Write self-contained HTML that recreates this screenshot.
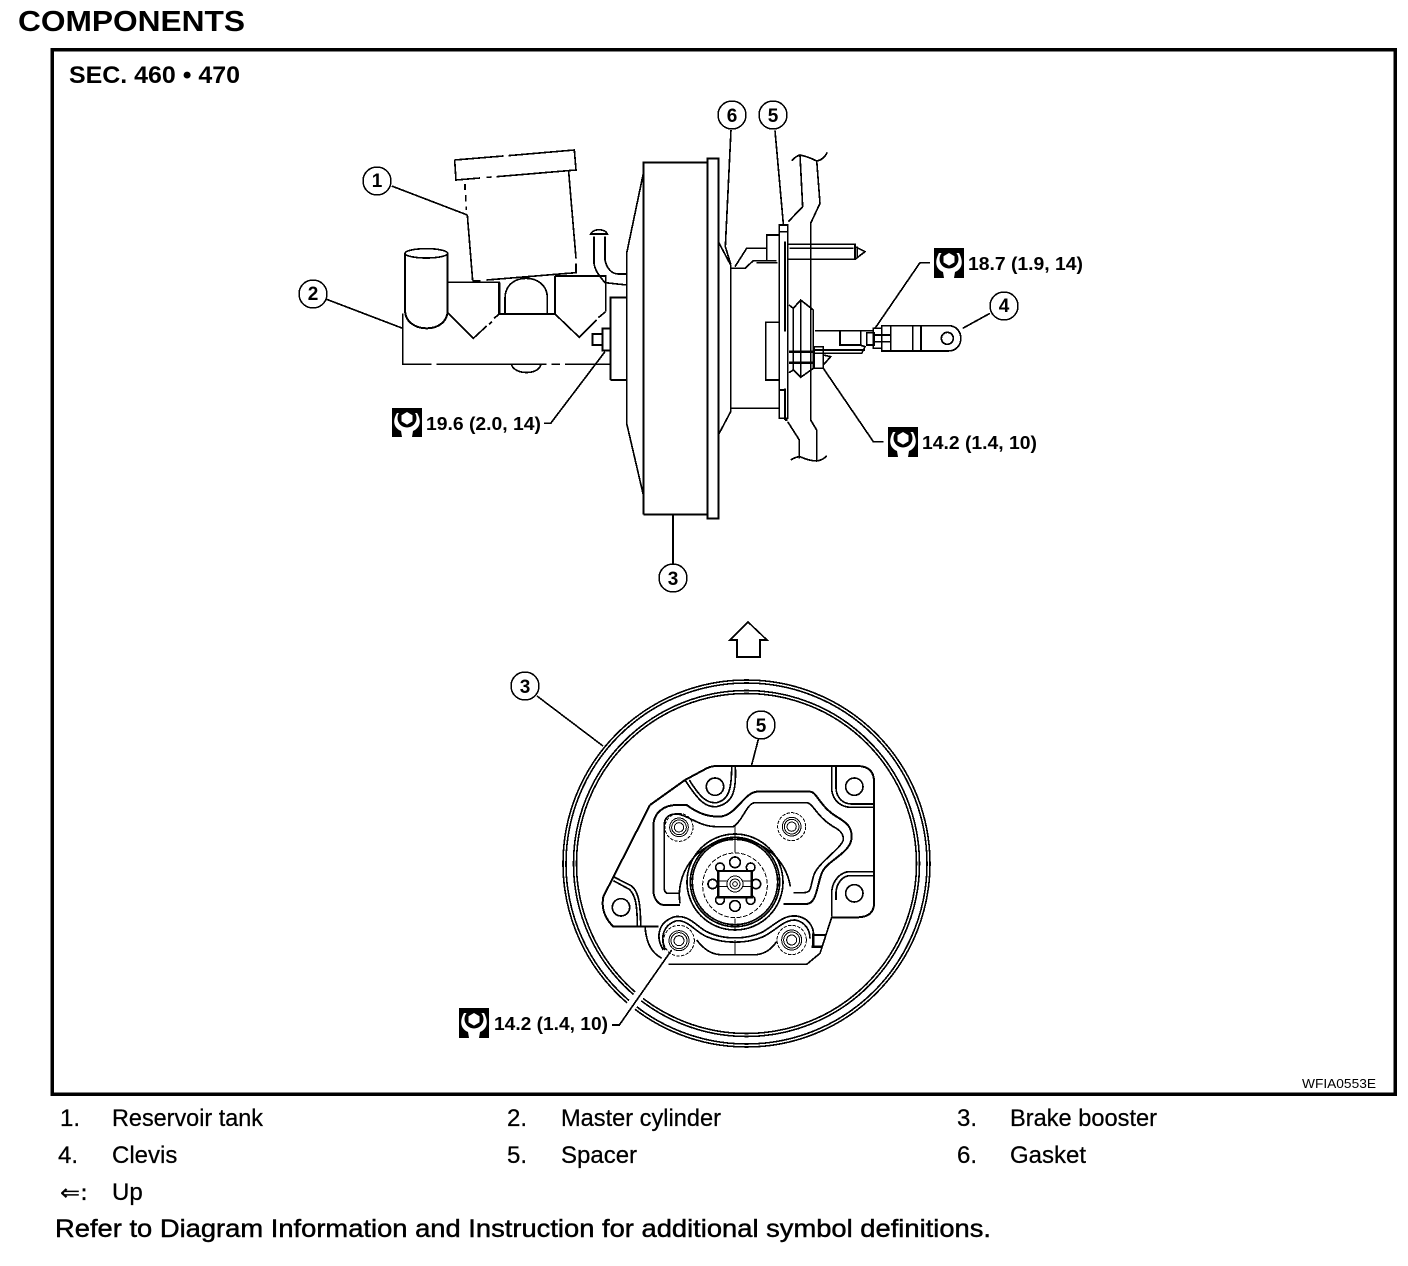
<!DOCTYPE html>
<html><head><meta charset="utf-8"><title>Components</title>
<style>
html,body{margin:0;padding:0;background:#fff;width:1408px;height:1266px;overflow:hidden}
svg{display:block}
text{font-family:"Liberation Sans",sans-serif;fill:#000}
.b{font-weight:bold}
.n{font-size:18px;font-weight:bold}
</style></head><body>
<svg width="1408" height="1266" viewBox="0 0 1408 1266" xmlns="http://www.w3.org/2000/svg" fill="none" stroke="#000" shape-rendering="crispEdges">
<text x="18" y="31" class="b" font-size="29" stroke="none" textLength="227" lengthAdjust="spacingAndGlyphs">COMPONENTS</text>
<rect x="52" y="49.5" width="1343" height="1044.5" stroke-width="3.5"/>
<text x="69" y="83" class="b" font-size="24" stroke="none" textLength="171" lengthAdjust="spacingAndGlyphs">SEC. 460 • 470</text>
<text x="1302" y="1088" font-size="13" stroke="none" textLength="74" lengthAdjust="spacingAndGlyphs">WFIA0553E</text>

<!-- master cylinder -->
<g transform="translate(290,90) scale(.33333)" stroke-width="5">
<path d="M494 210L640 198M655 197L853 180L858 240L620 260M605 261L590 262M570 264L498 270L494 210"/>
<path d="M525 282V300M527 315V335M529 350V360M532 375L548 572M548 572H572M590 570L858 548V520M858 505L836 245"/>
<path d="M305 288L532 375M110 628L338 715M338 670V823H425M440 823H770M785 823H810M825 823H962"/>
<path d="M665 825C675 855 745 855 752 825"/>
<path d="M345 490V660C345 695 375 715 410 715C445 715 473 695 473 660V490" stroke-width="6"/>
<ellipse cx="409" cy="490" rx="64" ry="14"/>
<path d="M475 577H628V672M473 668L550 745L590 708M597 703L605 695M612 685L628 672"/>
<path d="M628 672H795M628 577V672" stroke-width="7"/>
<path d="M645 670V625C645 585 675 565 708 565C742 565 772 585 772 625V670" stroke-width="5"/>
<path d="M795 558H947V665M795 558V672M795 672L868 742L920 690M925 683L947 665"/>
<path d="M902 432C910 415 945 415 952 432ZM912 440V520C915 540 925 555 945 578L1010 585M945 440V510C950 535 965 552 985 552H1010" stroke-width="5"/>
<path d="M962 870V622H1010M962 870H1010M908 732H938V765H908ZM938 715H962V782H938Z" stroke-width="6"/>
<path d="M762 1000H782L945 785"/>
</g>

<!-- booster -->
<g transform="translate(620,90) scale(.33333)" stroke-width="5">
<path d="M70 1273V217H262M70 1273H262M262 205H295V1285H262Z" stroke-width="6"/>
<path d="M70 250L20 490V1000L70 1215" stroke-width="5"/>
<path d="M295 455L332 525V965L295 1035M332 955H476" stroke-width="5"/>
<path d="M332 535H375L400 512H470M345 530L380 475H440V435H476M440 475V512M410 518H472" stroke-width="5"/>
<path d="M333 120L316 470L332 522M465 122L490 402"/>
<path d="M478 405H503V985H478ZM478 425H503M495 455V725M495 895V990M478 900H495M495 990H503" stroke-width="5"/>
<path d="M503 463H705V508H503M508 475H700M705 470L735 485L705 508M712 470V505"/>
<path d="M515 212Q528 198 540 195Q565 200 590 213Q610 210 622 187M540 195L548 350L505 395M590 210L600 340L572 400V990L590 1020V1110M503 995L538 1050V1105M512 1110Q528 1100 540 1100Q565 1112 590 1113Q610 1110 620 1097"/>
<path d="M507 645L520 655L542 630L580 660V835L542 862L520 840L507 848M520 655V840M542 630V862" stroke-width="5"/>
<path d="M476 697H437V870H476" stroke-width="5"/>
<path d="M585 722H760M585 780H735M660 725V765H720M660 765L720 765L735 770L725 790M722 722V765" stroke-width="5"/>
<path d="M507 785H580M507 818H580" stroke-width="7"/>
<path d="M582 770H610V835H582ZM582 790H610M610 795L632 800L610 825M610 790H725L735 770"/>
<path d="M740 728H762V765H740ZM760 715H785V775H760ZM760 735H810M760 755H810" stroke-width="5"/>
<path d="M785 707H985C1035 707 1035 783 985 783H785ZM812 707V783M878 707V783M903 707V783" stroke-width="5"/>
<circle cx="982" cy="745" r="18"/>
<path d="M1028 715L1110 670M930 518H900L765 715M790 1055H760L610 835"/>
</g>

<!-- bubbles -->
<g stroke-width="1.5">
<circle cx="377" cy="181" r="14"/><circle cx="313" cy="294" r="14"/><circle cx="732" cy="115" r="14"/>
<circle cx="773" cy="115" r="14"/><circle cx="1004" cy="306" r="14"/><circle cx="673" cy="578" r="14"/>
<circle cx="525" cy="686" r="14"/><circle cx="761" cy="725" r="14"/>
</g>
<g font-size="19" stroke="none" text-anchor="middle" class="b">
<text x="377" y="187">1</text><text x="313" y="300">2</text><text x="732" y="122">6</text>
<text x="773" y="122">5</text><text x="1004" y="312">4</text><text x="673" y="585">3</text>
<text x="525" y="693">3</text><text x="761" y="732">5</text>
</g>
<path d="M673 515V564M537 696L603 746" stroke-width="1.6"/>
<path d="M748 622L767 640H760V657H737V640H730Z" stroke-width="1.6"/>

<!-- front view -->
<g stroke-width="1.6"><circle cx="746.5" cy="863.5" r="183.5"/><circle cx="746.5" cy="863.5" r="180.5"/><circle cx="746.5" cy="863.5" r="173"/><circle cx="746.5" cy="863.5" r="170"/></g>
<path d="M625 1014L650 981" stroke="#fff" stroke-width="10"/>
<g transform="translate(550,700) scale(.33333)" stroke-width="5">
<path d="M605 195L625 118M186 975H208L365 750"/>
<path d="M300 315L405 240L470 205Q485 198 500 198H925Q972 200 972 245V610Q972 650 925 652H845M300 315L160 590Q150 640 190 680H325" stroke-width="6"/>
<path d="M285 680C290 740 310 760 335 775M355 793H770L810 760L845 652" stroke-width="5"/>
<path d="M790 705H830M785 740H815M790 700V740" stroke-width="7"/>
<path d="M405 240C450 310 470 322 500 320C545 310 560 280 556 200M418 240C455 300 475 310 500 308C535 300 545 270 545 200"/>
<path d="M845 200V270C850 305 875 322 905 322H972M858 200V265C860 295 880 312 905 312H972"/>
<path d="M972 515H900C870 515 845 545 845 580V650M972 527H900C875 527 858 555 858 580V600"/>
<path d="M190 530L245 558C265 575 272 610 272 680M190 542L238 568C255 585 262 610 262 680"/>
<path d="M390 615H340C320 612 310 590 310 570V380C310 335 345 315 380 315H410C450 345 480 350 510 350C560 345 580 280 620 275H780C800 275 810 320 860 350C890 368 905 380 905 410C905 460 830 480 815 520C800 560 800 610 770 612H700" stroke-width="6"/>
<path d="M385 580H355Q343 580 343 565V375Q343 340 385 342C420 350 450 380 500 380H550C580 360 590 310 615 308H770C790 310 800 350 850 380C880 395 880 410 880 420C870 450 800 490 790 530C780 565 785 578 760 578H730" stroke-width="5"/>
<g stroke-width="5">
<path d="M390 610A166 166 0 1 1 721 560"/><circle cx="555" cy="546" r="144"/><circle cx="555" cy="546" r="134"/><circle cx="555" cy="546" r="128"/>
</g>
<circle cx="555" cy="556" r="97" stroke-dasharray="14 5" stroke-width="3"/>
<path d="M555 380V458M555 655V690M555 720V765" stroke-width="3"/>
<g stroke-width="5" fill="#fff">
<circle cx="555" cy="487" r="16"/><circle cx="555" cy="618" r="16"/><circle cx="488" cy="552" r="14"/><circle cx="618" cy="552" r="14"/>
<circle cx="510" cy="502" r="13"/><circle cx="602" cy="502" r="13"/><circle cx="510" cy="600" r="13"/><circle cx="602" cy="600" r="13"/>
<rect x="505" y="513" width="100" height="79" stroke-width="7"/>
</g>
<path d="M505 543H605M505 560H605" stroke-width="3"/>
<g stroke-width="3" fill="#fff"><circle cx="555" cy="552" r="24"/><circle cx="555" cy="552" r="15"/><circle cx="555" cy="552" r="7"/></g>
<g stroke-width="5">
<circle cx="495" cy="260" r="26"/><circle cx="913" cy="260" r="26"/><circle cx="913" cy="580" r="26"/><circle cx="213" cy="622" r="26"/>
</g>
<g stroke-width="3">
<circle cx="387" cy="382" r="42" stroke-dasharray="10 4"/><circle cx="387" cy="382" r="28"/><circle cx="387" cy="382" r="22"/><circle cx="387" cy="382" r="14"/>
<circle cx="725" cy="380" r="42" stroke-dasharray="10 4"/><circle cx="725" cy="380" r="28"/><circle cx="725" cy="380" r="22"/><circle cx="725" cy="380" r="14"/>
<circle cx="387" cy="722" r="46" stroke-dasharray="10 4"/><circle cx="387" cy="722" r="30"/><circle cx="387" cy="722" r="24"/><circle cx="387" cy="722" r="15"/>
<circle cx="725" cy="720" r="44" stroke-dasharray="10 4"/><circle cx="725" cy="720" r="30"/><circle cx="725" cy="720" r="24"/><circle cx="725" cy="720" r="15"/>
</g>
<path d="M340 750C315 710 325 665 375 650C420 645 440 680 470 695C520 720 590 720 640 695C680 670 700 645 740 648C780 655 795 685 790 720"/>
<path d="M345 750C330 710 340 675 380 662C415 660 435 695 470 710C520 732 590 732 640 710C680 690 700 660 735 660C765 665 780 690 780 715"/>
<path d="M440 720C460 745 480 762 510 764H620C650 760 665 745 680 725"/>
</g>

<!-- torque icons -->
<g shape-rendering="auto" stroke="none">
<g transform="translate(392,408)"><rect width="30" height="29" fill="#000"/><path d="M5 5C0 13 2 20 9 23L10 29H20L21 23C28 20 30 13 25 5Z" fill="#fff"/><circle cx="15" cy="10" r="9.5" fill="#000"/><path d="M15 4L20.5 7.2V13.4L15 16.6L9.5 13.4V7.2Z" fill="#fff"/></g>
<g transform="translate(934,248)"><rect width="30" height="30" fill="#000"/><path d="M5 5C0 14 2 21 9 24L10 30H20L21 24C28 21 30 14 25 5Z" fill="#fff"/><circle cx="15" cy="11" r="9.5" fill="#000"/><path d="M15 5L20.5 8.2V14.4L15 17.6L9.5 14.4V8.2Z" fill="#fff"/></g>
<g transform="translate(888,427)"><rect width="30" height="30" fill="#000"/><path d="M5 5C0 14 2 21 9 24L10 30H20L21 24C28 21 30 14 25 5Z" fill="#fff"/><circle cx="15" cy="11" r="9.5" fill="#000"/><path d="M15 5L20.5 8.2V14.4L15 17.6L9.5 14.4V8.2Z" fill="#fff"/></g>
<g transform="translate(459,1008)"><rect width="30" height="30" fill="#000"/><path d="M5 5C0 14 2 21 9 24L10 30H20L21 24C28 21 30 14 25 5Z" fill="#fff"/><circle cx="15" cy="11" r="9.5" fill="#000"/><path d="M15 5L20.5 8.2V14.4L15 17.6L9.5 14.4V8.2Z" fill="#fff"/></g>
</g>
<g stroke="none">
<text x="426" y="430" class="n" textLength="115" lengthAdjust="spacingAndGlyphs">19.6 (2.0, 14)</text>
<text x="968" y="270" class="n" textLength="115" lengthAdjust="spacingAndGlyphs">18.7 (1.9, 14)</text>
<text x="922" y="449" class="n" textLength="115" lengthAdjust="spacingAndGlyphs">14.2 (1.4, 10)</text>
<text x="494" y="1030" class="n" textLength="114" lengthAdjust="spacingAndGlyphs">14.2 (1.4, 10)</text>
</g>

<!-- legend -->
<g stroke="#000" stroke-width=".25" font-size="24">
<text x="60" y="1126">1.</text><text x="112" y="1126" textLength="151" lengthAdjust="spacingAndGlyphs">Reservoir tank</text>
<text x="507" y="1126">2.</text><text x="561" y="1126" textLength="160" lengthAdjust="spacingAndGlyphs">Master cylinder</text>
<text x="957" y="1126">3.</text><text x="1010" y="1126" textLength="147" lengthAdjust="spacingAndGlyphs">Brake booster</text>
<text x="58" y="1163">4.</text><text x="112" y="1163">Clevis</text>
<text x="507" y="1163">5.</text><text x="561" y="1163">Spacer</text>
<text x="957" y="1163">6.</text><text x="1010" y="1163">Gasket</text>
<text x="60" y="1200" style="font-family:'DejaVu Sans',sans-serif" font-size="22" textLength="28" lengthAdjust="spacingAndGlyphs">⇐:</text><text x="112" y="1200">Up</text>
<text x="55" y="1237" stroke-width=".45" textLength="936" lengthAdjust="spacingAndGlyphs" font-size="25">Refer to Diagram Information and Instruction for additional symbol definitions.</text>
</g>
</svg>
</body></html>
